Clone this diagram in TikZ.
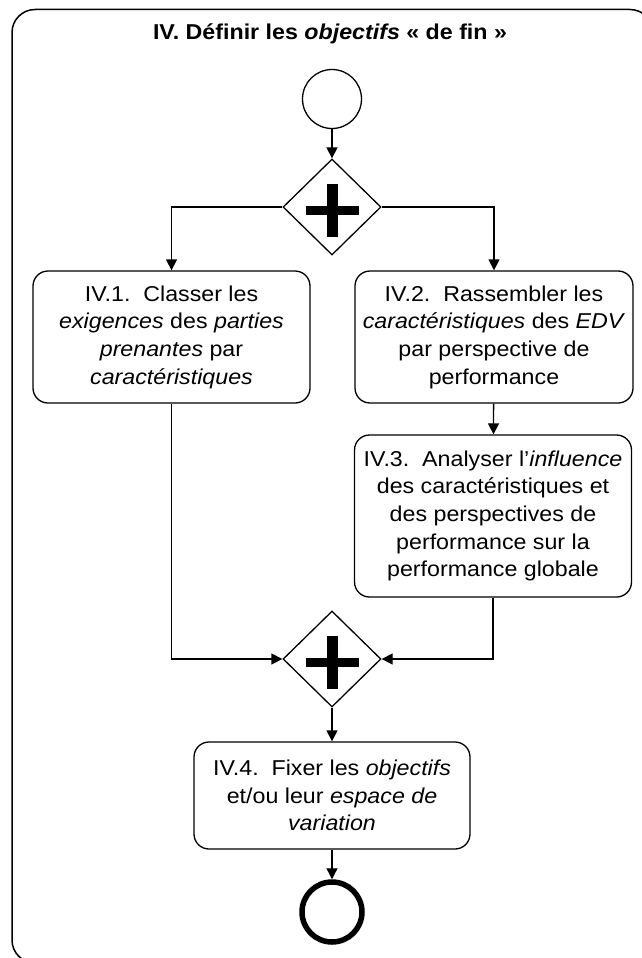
\documentclass[tikz,border=0pt]{standalone}
\usepackage{fontspec}
\setmainfont{Liberation Sans}[FakeStretch=1.08]
\usetikzlibrary{shapes.geometric,arrows.meta,calc}
\begin{document}
\begin{tikzpicture}[x=1pt,y=-1pt,
  line width=1.3pt,
  arr/.style={-{Triangle[length=11pt,width=11pt]}},
  taskbox/.style={draw,rounded corners=15pt,align=center,inner sep=0pt,
    font=\fontsize{21.5}{27.7}\selectfont},
  gateway/.style={draw,diamond,inner sep=0pt,minimum width=98pt,minimum height=96pt},
  startev/.style={draw,circle,inner sep=0pt,minimum size=59pt},
  endev/.style={draw,circle,inner sep=0pt,minimum size=60pt,line width=5.5pt}]
\useasboundingbox (0,0) rectangle (641,958);
\draw[line width=1.5pt,rounded corners=23pt] (12,9.5) rectangle (653,963);
\node[font=\fontsize{21.5}{24}\selectfont\bfseries,anchor=base] (title) at (330,40)
  {IV. Définir les \textit{objectifs} « de fin »};
\node[startev] (start) at (332,99) {};
\node[gateway] (g1) at (332,207) {};
\node[taskbox,minimum width=277pt,minimum height=132pt] (b1) at (171.5,337)
  {IV.1.\ \ Classer les\\ \textit{exigences} des \textit{parties}\\ \textit{prenantes} par\\ \textit{caractéristiques}};
\node[taskbox,minimum width=278pt,minimum height=132pt] (b2) at (494,337)
  {IV.2.\ \ Rassembler les\\ \textit{caractéristiques} des \textit{EDV}\\ par perspective de\\ performance};
\node[taskbox,minimum width=277pt,minimum height=162pt] (b3) at (493,516)
  {IV.3.\ \ Analyser l’\textit{influence}\\ des caractéristiques et\\ des perspectives de\\ performance sur la\\ performance globale};
\node[gateway] (g2) at (332,659) {};
\node[taskbox,minimum width=276pt,minimum height=107pt] (b4) at (332,795.5)
  {IV.4.\ \ Fixer les \textit{objectifs}\\ et/ou leur \textit{espace de}\\ \textit{variation}};
\node[endev] (end) at (332,912) {};
% plus signs
\foreach \g in {g1,g2}{
  \fill ($(\g.center)+(-5.5,-23)$) rectangle ($(\g.center)+(5.5,30)$);
  \fill ($(\g.center)+(-26.5,-1)$) rectangle ($(\g.center)+(26.5,8)$);
}
\draw[arr] (start) -- (g1);
\draw[arr] (g1.west) -| (b1.north);
\draw[arr] (g1.east) -| (b2.north);
\draw[arr] (b2) -- (b3);
\draw[arr] (b1.south) |- (g2.west);
\draw[arr] (b3.south) |- (g2.east);
\draw[arr] (g2) -- (b4);
\draw[arr] (b4) -- (end);
\end{tikzpicture}
\end{document}
